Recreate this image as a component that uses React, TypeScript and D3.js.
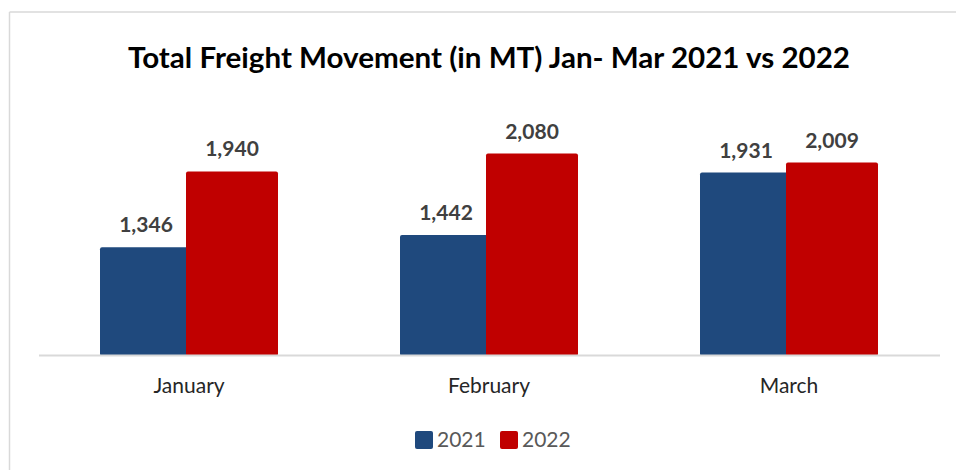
import React from "react";
import * as d3 from "d3";

const categories = ["January", "February", "March"];
const seriesNames = ["2021", "2022"];
const values2021 = [1346, 1442, 1931];
const values2022 = [1940, 2080, 2009];
const colors = ["#1F497D", "#C00000"];
const title = "Total Freight Movement (in MT) Jan- Mar 2021 vs 2022";

const W = 956;
const H = 470;
const FONT = "Lato, 'Open Sans', sans-serif";

export default function App() {
  const x = d3.scaleBand<string>().domain(categories).range([39, 939]).paddingInner(0).paddingOuter(0);
  const y = d3.scaleLinear().domain([500, 2500]).range([355, 100]);
  const barW = 92;
  const overlap = 6;
  const groupW = barW * 2 - overlap;
  const series = [values2021, values2022];
  const fmt = d3.format(",");

  return (
    <svg width={W} height={H} style={{ position: "absolute", left: 0, top: 0 }} fontFamily={FONT}>
      <rect x={0} y={0} width={W} height={H} fill="#fff" />
      <line x1={9.5} y1={12} x2={9.5} y2={H} stroke="#D9D9D9" strokeWidth={1.5} />
      <line x1={9.5} y1={12} x2={W} y2={12} stroke="#D9D9D9" strokeWidth={1.5} />
      <text x={489} y={68} textAnchor="middle" fontWeight={700} fontSize={29} fill="#000" textLength={722} lengthAdjust="spacingAndGlyphs">
        {title}
      </text>
      {categories.map((c, i) => {
        const cx = (x(c) as number) + x.bandwidth() / 2;
        const gx = cx - groupW / 2;
        return (
          <g key={c}>
            {series.map((vals, s) => {
              const bx = gx + s * (barW - overlap);
              const top = y(vals[i]);
              return (
                <g key={s}>
                  <rect x={bx} y={top} width={barW} height={y(500) - top + 1} rx={2} fill={colors[s]} />
                  <text x={bx + barW / 2} y={top - 15} textAnchor="middle" fontWeight={700} fontSize={21} fill="#404040">
                    {fmt(vals[i])}
                  </text>
                </g>
              );
            })}
            <text x={cx} y={393} textAnchor="middle" fontSize={21} fill="#262626">{c}</text>
          </g>
        );
      })}
      <line x1={39} y1={355.5} x2={940} y2={355.5} stroke="#D9D9D9" strokeWidth={2} />
      {seriesNames.map((n, s) => {
        const lx = 415 + s * 85;
        return (
          <g key={n}>
            <rect x={lx} y={431} width={18} height={18} rx={2} fill={colors[s]} />
            <text x={lx + 22} y={447} fontSize={21} fill="#595959">{n}</text>
          </g>
        );
      })}
    </svg>
  );
}
